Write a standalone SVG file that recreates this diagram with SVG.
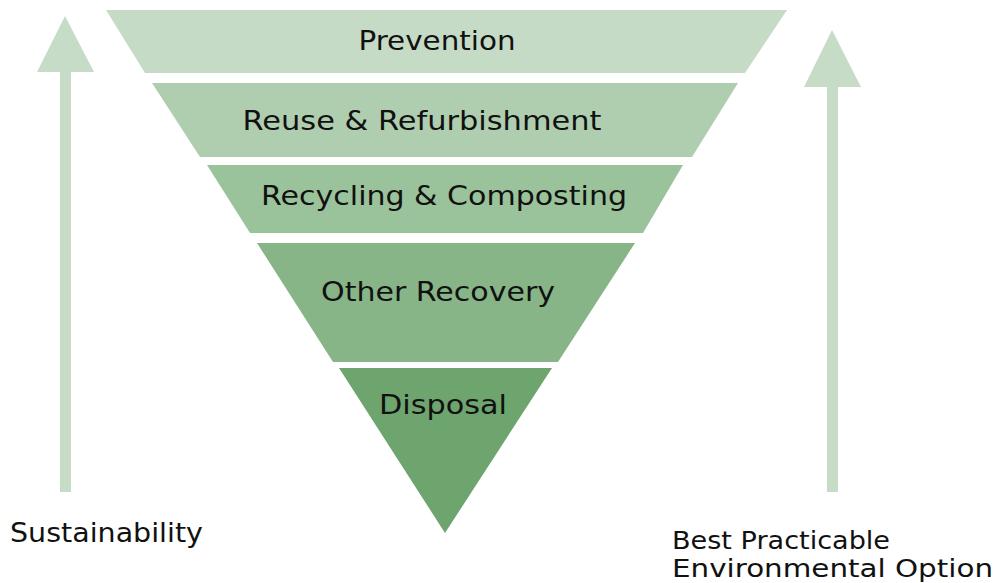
<svg xmlns="http://www.w3.org/2000/svg" width="1001" height="583" viewBox="0 0 1001 583">
<style>
.t{font-family:"DejaVu Sans","Liberation Sans",sans-serif;font-size:27px;fill:#111;}
.s{font-size:25px;}
.c{text-anchor:middle;}
.arrow{fill:#c6dcc6;}
</style>
<rect width="1001" height="583" fill="#ffffff"/>
<g id="arrows">
<path id="arrow-left" class="arrow" d="M60,492 L60,72 L37,72 L65,16 L94,72 L71,72 L71,492 Z"/>
<path id="arrow-right" class="arrow" d="M827,492 L827,87 L804,87 L832,30 L861,87 L838,87 L838,492 Z"/>
</g>
<g id="prevention">
<polygon points="106,10 787,10 745,73 145,73" fill="#c5dbc5"/>
<text class="t c" x="437" y="50" textLength="157" lengthAdjust="spacingAndGlyphs">Prevention</text>
</g>
<g id="reuse">
<polygon points="152,83 738,83 692,157 200,157" fill="#afcdaf"/>
<text class="t c" x="422" y="130" textLength="359" lengthAdjust="spacingAndGlyphs">Reuse &amp; Refurbishment</text>
</g>
<g id="recycling">
<polygon points="207,165 683,165 643,233 250,233" fill="#9bc39b"/>
<text class="t c" x="444" y="205" textLength="366" lengthAdjust="spacingAndGlyphs">Recycling &amp; Composting</text>
</g>
<g id="other-recovery">
<polygon points="257,243 635,243 558,362 333,362" fill="#87b587"/>
<text class="t c" x="438" y="301" textLength="234" lengthAdjust="spacingAndGlyphs">Other Recovery</text>
</g>
<g id="disposal">
<polygon points="339,368 552,368 445,533" fill="#6ea46e"/>
<text class="t c" x="443" y="414" textLength="128" lengthAdjust="spacingAndGlyphs">Disposal</text>
</g>
<g id="labels">
<text class="t" x="10" y="542" textLength="193" lengthAdjust="spacingAndGlyphs">Sustainability</text>
<text class="t s" x="672" y="549" textLength="218" lengthAdjust="spacingAndGlyphs">Best Practicable</text>
<text class="t s" x="672" y="577" textLength="321" lengthAdjust="spacingAndGlyphs">Environmental Option</text>
</g>
</svg>
